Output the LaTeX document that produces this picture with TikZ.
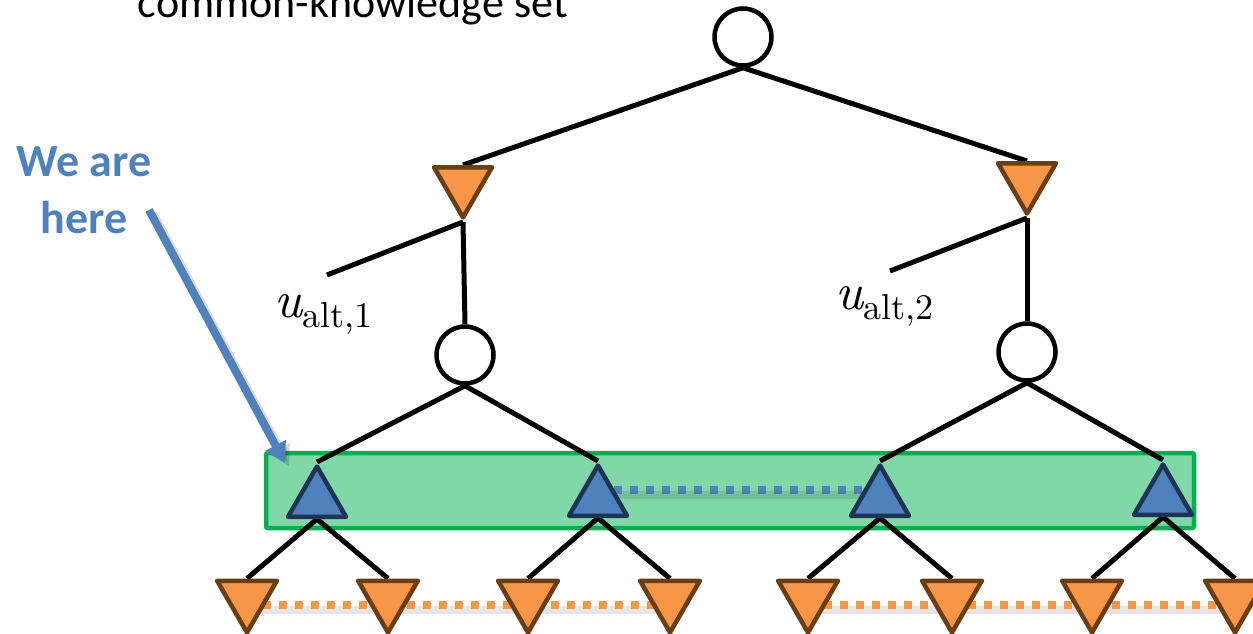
\documentclass[tikz,border=0pt]{standalone}
\usepackage{fontspec}
\setmainfont{Carlito}
\newfontfamily\lmr{lmroman10}[Extension=.otf, UprightFont=*-regular, ItalicFont=*-italic]
\usetikzlibrary{shapes.geometric,arrows.meta,calc,backgrounds}

\definecolor{triorange}{RGB}{247,150,70}
\definecolor{oriedge}{RGB}{106,62,20}
\definecolor{triblue}{RGB}{79,129,189}
\definecolor{blueedge}{RGB}{31,52,84}
\definecolor{boxfill}{RGB}{128,216,168}
\definecolor{boxedge}{RGB}{0,176,80}

\newcommand{\ualt}[1]{{\lmr\itshape u}\raisebox{-10pt}{\fontsize{36}{42}\selectfont\lmr alt,#1}}

\tikzset{
  chance/.style={circle, draw=black, fill=white, line width=4.5pt, minimum size=57pt, inner sep=0pt},
  minnode/.style={regular polygon, regular polygon sides=3, shape border rotate=180,
    draw=oriedge, fill=triorange, line width=4.5pt, line join=round, inner sep=0pt, minimum size=69pt},
  maxnode/.style={regular polygon, regular polygon sides=3,
    draw=blueedge, fill=triblue, line width=4.5pt, line join=round, inner sep=0pt, minimum size=67pt},
  treeedge/.style={line width=5pt, black},
  dots/.style={line width=8pt, dash pattern=on 8pt off 8pt},
  dropshadow/.style={line width=8pt, black, opacity=0.1},
  infoset/.style={draw=boxedge, fill=boxfill, line width=4.5pt, rounded corners=2pt,
    minimum width=928pt, minimum height=75pt, inner sep=0pt},
  utility/.style={anchor=base west, inner sep=0pt, font=\fontsize{52}{60}\selectfont},
}

\begin{document}
\begin{tikzpicture}[x=1pt, y=-1pt]
\useasboundingbox (0,0) rectangle (1253,634);

% caption at the top
\node[anchor=base east, inner sep=0pt, font=\fontsize{44}{53}\selectfont] (cks) at (568,18) {common-knowledge set};

% game tree nodes
\node[chance] (root) at (743,37) {};
\node[minnode, minimum size=67pt] (pL) at (463,184) {};
\node[minnode, minimum size=67pt] (pR) at (1027,180) {};
\coordinate (ua1) at (327,275);
\coordinate (ua2) at (890,271);
\node[utility] (lab1) at (274,317) {\ualt{1}};
\node[utility] (lab2) at (835,309) {\ualt{2}};
\node[chance] (cL) at (465,355) {};
\node[chance] (cR) at (1027,352) {};

% the highlighted set of decision nodes
\coordinate (level) at (730,490.5);

\node[maxnode] (m1) at (317,500) {};
\node[maxnode] (m2) at (598,499) {};
\node[maxnode] (m3) at (880,499) {};
\node[maxnode] (m4) at (1163,498) {};

\node[minnode] (b1) at (247,598) {};
\node[minnode] (b2) at (388,598) {};
\node[minnode] (b3) at (528,598) {};
\node[minnode] (b4) at (670,598) {};
\node[minnode] (b5) at (808,598) {};
\node[minnode] (b6) at (952,598) {};
\node[minnode] (b7) at (1092,598) {};
\node[minnode] (b8) at (1235,598) {};

\begin{scope}[on background layer]
  \node[infoset] (box) at (level) {};
  % information-set links with their shadows
  \draw[dropshadow] ($(m2.center)+(0,-4)$) -- ($(m3.center)+(0,-4)$);
  \draw[dots, triblue] ($(m2.center)+(0,-9)$) -- ($(m3.center)+(0,-9)$);
  \draw[dropshadow] ($(b1.center)+(0,12)$) -- ($(b4.center)+(0,12)$);
  \draw[dots, triorange] ($(b1.center)+(0,7)$) -- ($(b4.center)+(0,7)$);
  \draw[dropshadow] ($(b5.center)+(0,12)$) -- ($(b8.center)+(0,12)$);
  \draw[dots, triorange] ($(b5.center)+(0,7)$) -- ($(b8.center)+(0,7)$);
  % tree edges
  \draw[treeedge] (root.south) -- (pL.north);
  \draw[treeedge] (root.south) -- (pR.north);
  \draw[treeedge] (pL.south) -- (ua1);
  \draw[treeedge] (pR.south) -- (ua2);
  \draw[treeedge] (pL.south) -- (cL.north);
  \draw[treeedge] (pR.south) -- (cR.north);
  \draw[treeedge] (cL.south) -- (m1.north);
  \draw[treeedge] (cL.south) -- (m2.north);
  \draw[treeedge] (cR.south) -- (m3.north);
  \draw[treeedge] (cR.south) -- (m4.north);
  \draw[treeedge] (m1.south) -- (b1.north);
  \draw[treeedge] (m1.south) -- (b2.north);
  \draw[treeedge] (m2.south) -- (b3.north);
  \draw[treeedge] (m2.south) -- (b4.north);
  \draw[treeedge] (m3.south) -- (b5.north);
  \draw[treeedge] (m3.south) -- (b6.north);
  \draw[treeedge] (m4.south) -- (b7.north);
  \draw[treeedge] (m4.south) -- (b8.north);
\end{scope}

% pointer
\node[anchor=north, align=center, inner sep=0pt, text=triblue,
      font=\fontsize{46}{57}\selectfont\bfseries] (here) at (84,146) {We are\\here};
\coordinate (tail) at (149,210);
\coordinate (tip) at (285,463);
\draw[line width=8pt, black, opacity=0.15, -{Triangle[width=22pt,length=20pt]}]
  ($(tail)+(4,3)$) -- ($(tip)+(4,3)$);
\draw[line width=8pt, triblue, -{Triangle[width=22pt,length=20pt]}] (tail) -- (tip);
\end{tikzpicture}
\end{document}
